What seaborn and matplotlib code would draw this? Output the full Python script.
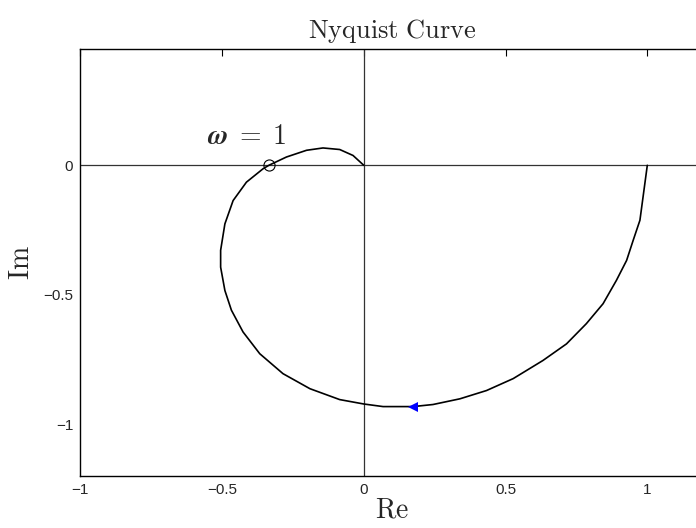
import matplotlib
matplotlib.use("Agg")
import matplotlib.pyplot as plt
import seaborn as sns
import pandas as pd

# Sampled frequency response G(jw), from w = 0 (at 1 + 0j) out to w -> inf (origin)
re_part = [1.0, 0.974, 0.95, 0.927, 0.891, 0.844, 0.785, 0.715, 0.632, 0.527,
           0.433, 0.339, 0.244, 0.174, 0.068, 0.0, -0.085, -0.190, -0.285,
           -0.367, -0.426, -0.467, -0.490, -0.505, -0.505, -0.490, -0.461,
           -0.414, -0.355, -0.335, -0.273, -0.202, -0.144, -0.085, -0.038, 0.0]
im_part = [0.0, -0.212, -0.29, -0.367, -0.444, -0.534, -0.611, -0.689, -0.753,
           -0.823, -0.869, -0.901, -0.923, -0.931, -0.931, -0.921, -0.904,
           -0.862, -0.804, -0.727, -0.643, -0.559, -0.483, -0.393, -0.328,
           -0.226, -0.136, -0.065, -0.013, 0.0, 0.032, 0.058, 0.067, 0.061,
           0.038, 0.0]

# Index of the direction arrow and of the w = 1 crossing
arrow_idx = 13
w1_idx = 29
w1_label = r"$\boldsymbol{\omega}\;\mathbf{=}\;\mathbf{1}$"

x_ticks = [-1, -0.5, 0, 0.5, 1]
x_tick_labels = ["\u22121", "\u22120.5", "0", "0.5", "1"]
y_ticks = [-1, -0.5, 0]
y_tick_labels = ["\u22121", "\u22120.5", "0"]

df = pd.DataFrame({"Re": re_part, "Im": im_part})

sns.set_style("white")
plt.rcParams["font.family"] = ["Liberation Sans", "DejaVu Sans"]
plt.rcParams["mathtext.fontset"] = "cm"

fig = plt.figure(figsize=(6.96, 5.28), dpi=100)
ax = fig.add_axes([80.3 / 696, 51.7 / 528, 623.7 / 696, 427.6 / 528])

# Real and imaginary axes
ax.axhline(0, color="#333333", lw=0.9, zorder=1)
ax.axvline(0, color="#333333", lw=0.9, zorder=1)

sns.lineplot(data=df, x="Re", y="Im", sort=False, estimator=None,
             color="black", lw=1.2, ax=ax, zorder=3)
ax.lines[-1].set_solid_joinstyle("round")

# Direction of increasing frequency
ax.plot(re_part[arrow_idx], im_part[arrow_idx], marker="<", color="blue",
        markersize=7, markeredgewidth=0, zorder=4)

# w = 1 marker and label
ax.plot(re_part[w1_idx], im_part[w1_idx], marker="o", mfc="none", mec="black",
        markersize=8, mew=0.8, zorder=4)
ax.text(re_part[w1_idx] - 0.08, im_part[w1_idx] + 0.11, w1_label,
        fontsize=20, ha="center", va="center")

ax.set_xlim(-1, 1.2)
ax.set_ylim(-1.2, 0.45)
ax.set_xticks(x_ticks)
ax.set_xticklabels(x_tick_labels)
ax.set_yticks(y_ticks)
ax.set_yticklabels(y_tick_labels)
ax.tick_params(direction="in", length=5, width=0.8, color="black",
               labelsize=11, top=True, right=True, pad=5)

for s in ax.spines.values():
    s.set_visible(True)
    s.set_color("black")
    s.set_linewidth(1.0)

ax.set_title(r"$\mathrm{Nyquist\ Curve}$", fontsize=19, pad=8)
ax.set_xlabel(r"$\mathrm{Re}$", fontsize=20, labelpad=0)
ax.set_ylabel(r"$\mathrm{Im}$", fontsize=20, labelpad=6)

fig.savefig("out.png", dpi=100)
